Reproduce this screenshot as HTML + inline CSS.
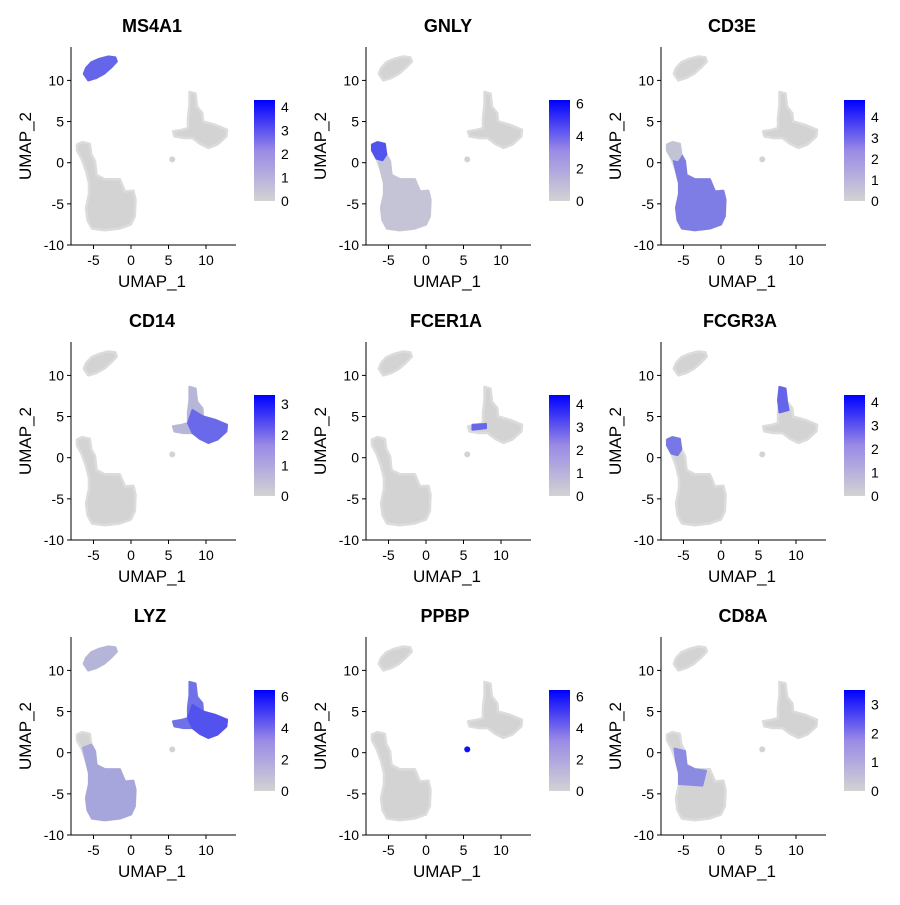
<!DOCTYPE html>
<html><head><meta charset="utf-8"><style>
html,body{margin:0;padding:0;background:#fff}
svg text{font-family:"Liberation Sans",sans-serif;fill:#000}
</style></head><body>
<svg id="chart" width="900" height="900" viewBox="0 0 900 900"></svg>
<script>
const genes = ["MS4A1","GNLY","CD3E","CD14","FCER1A","FCGR3A","LYZ","PPBP","CD8A"];
const titleX = [152,448,732,152,446,740,150,445,743];
const scaleMax = [4.3,6.2,4.8,3.3,4.4,4.3,6.4,6.4,3.5];
const scaleTicks = [[0,1,2,3,4],[0,2,4,6],[0,1,2,3,4],[0,1,2,3],[0,1,2,3,4],[0,1,2,3,4],[0,2,4,6],[0,2,4,6],[0,1,2,3]];
const xTicks = [-5,0,5,10];
const yTicks = [10,5,0,-5,-10];
const bCluster = [[-6.3,10.8],[-6.0,11.5],[-5.3,12.2],[-4.3,12.6],[-3.0,12.9],[-2.1,12.8],[-1.9,12.3],[-2.6,11.6],[-3.6,10.8],[-4.6,10.3],[-5.7,10.0]];
const tCluster = [[-7.2,2.2],[-6.5,2.5],[-5.5,2.3],[-5.3,1.0],[-4.8,0.2],[-4.6,-1.5],[-3.5,-2.0],[-1.5,-2.0],[-0.8,-3.5],[0.3,-3.4],[0.6,-4.5],[0.5,-6.5],[0,-7.5],[-1.5,-8.0],[-3.5,-8.2],[-5.2,-8.0],[-5.8,-7.0],[-6.0,-5.5],[-5.6,-3.8],[-5.6,-2.5],[-6.0,-1.0],[-6.6,0.5],[-7.2,1.5]];
const monoCluster = [[7.8,8.6],[8.6,8.4],[8.8,6.8],[9.5,6.0],[9.6,5.0],[11.2,4.6],[12.8,4.0],[12.7,3.2],[11.5,2.2],[10.3,1.8],[9.2,2.3],[8.2,3.0],[7.0,3.0],[5.8,3.2],[5.6,3.8],[6.8,4.0],[7.6,4.2],[7.6,5.5],[7.8,7.0]];
const plateletCenter = [5.5,0.4];
const nkTip = [[-7.2,2.2],[-6.5,2.5],[-5.5,2.3],[-5.3,1.0],[-5.8,0.3],[-6.6,0.5],[-7.2,1.5]];
const tBody = [[-6.4,0.6],[-5.3,1.0],[-4.8,0.2],[-4.6,-1.5],[-3.5,-2.0],[-1.5,-2.0],[-0.8,-3.5],[0.3,-3.4],[0.6,-4.5],[0.5,-6.5],[0,-7.5],[-1.5,-8.0],[-3.5,-8.2],[-5.2,-8.0],[-5.8,-7.0],[-6.0,-5.5],[-5.6,-3.8],[-5.6,-2.5],[-6.0,-1.0]];
const monoRight = [[8.2,5.8],[9.6,5.0],[11.2,4.6],[12.8,4.0],[12.7,3.2],[11.5,2.2],[10.3,1.8],[9.2,2.3],[8.2,3.0],[7.6,4.2]];
const dcSpot = [[6.2,3.4],[8.0,3.6],[8.0,4.1],[6.2,4.0]];
const monoTop = [[7.8,8.6],[8.6,8.4],[8.8,6.8],[9.0,5.8],[7.8,5.5],[7.6,7.0]];
const cd8Region = [[-6.2,0.5],[-4.8,0.2],[-4.6,-1.5],[-3.5,-2.0],[-2,-2.2],[-2.5,-4],[-5.6,-3.8],[-5.6,-2.5],[-6.0,-1.0]];
const exprRegions = [
 [[bCluster,3.0]],
 [[tBody,0.6],[nkTip,5.0]],
 [[tBody,2.6],[nkTip,0.5]],
 [[monoCluster,0.6],[monoRight,2.2]],
 [[dcSpot,3.0]],
 [[monoTop,3.0],[nkTip,2.5]],
 [[bCluster,1.2],[tBody,1.8],[monoCluster,4.0],[monoRight,5.2]],
 [["platelet",6.0]],
 [[cd8Region,1.6]]
];
const exprDisplay = 0.75;
const ns="http://www.w3.org/2000/svg";
const svg=document.getElementById('chart');
function mk(tag,attrs,parent){const e=document.createElementNS(ns,tag);for(const k in attrs)e.setAttribute(k,attrs[k]);(parent||svg).appendChild(e);return e;}
function col(v,max){const t=Math.max(0,Math.min(1,v/max));const r=Math.round(211*(1-t)),g=Math.round(211*(1-t)),b=Math.round(211+(255-211)*t);return `rgb(${r},${g},${b})`;}
const defs=mk('defs',{});
const lg=mk('linearGradient',{id:'cbar',x1:0,y1:1,x2:0,y2:0},defs);
mk('stop',{offset:0,'stop-color':'#d3d3d3'},lg);mk('stop',{offset:0.5,'stop-color':'#9a8ae6'},lg);mk('stop',{offset:1,'stop-color':'#0000ff'},lg);
genes.forEach((gname,i)=>{
 const ox=(i%3)*295, oy=Math.floor(i/3)*295;
 const sx=u=>ox+131+7.5*u, sy=u=>oy+162.7-8.23*u;
 const pts=p=>p.map(q=>sx(q[0]).toFixed(1)+','+sy(q[1]).toFixed(1)).join(' ');
 const g=mk('g',{});
 
 
 const t=mk('text',{x:titleX[i],y:oy+32,'text-anchor':'middle','font-size':18,'font-weight':'bold'},g);t.textContent=gname;
 
 
 [bCluster,tCluster,monoCluster].forEach(c=>{const p=mk('polygon',{points:pts(c),fill:'#d3d3d3',stroke:'#dcdcdc','stroke-width':2.5,'stroke-linejoin':'round'},g);
  
  });
 const pl=mk('circle',{cx:sx(plateletCenter[0]),cy:sy(plateletCenter[1]),r:3,fill:'#d3d3d3'},g);
 
 
 exprRegions[i].forEach(([reg,v])=>{
  let e;
  const c=col(v*(reg==='platelet'?1:exprDisplay),scaleMax[i]);
  if(reg==='platelet'){e=mk('circle',{cx:sx(plateletCenter[0]),cy:sy(plateletCenter[1]),r:3,fill:c},g);}
  else e=mk('polygon',{points:pts(reg),fill:c,stroke:c,'stroke-width':2,'stroke-linejoin':'round'},g);
  
  
 });
 const ax=mk('path',{d:`M${ox+71},${oy+47}V${oy+245}H${ox+236}`,stroke:'#000','stroke-width':1,fill:'none'},g);
 
 
 yTicks.forEach(v=>{const y=sy(v);mk('line',{x1:ox+67,x2:ox+71,y1:y,y2:y,stroke:'#000'},g);
  const tt=mk('text',{x:ox+64,y:y+5,'text-anchor':'end','font-size':14},g);tt.textContent=v;
  
  });
 xTicks.forEach(v=>{const x=sx(v);mk('line',{x1:x,x2:x,y1:oy+245,y2:oy+249,stroke:'#000'},g);
  const tt=mk('text',{x:x,y:oy+265,'text-anchor':'middle','font-size':14},g);tt.textContent=v;
  
  });
 const xl=mk('text',{x:ox+152,y:oy+287,'text-anchor':'middle','font-size':17},g);xl.textContent='UMAP_1';
 
 
 const yl=mk('text',{x:0,y:0,'text-anchor':'middle','font-size':17,transform:`translate(${ox+31},${oy+146}) rotate(-90)`},g);yl.textContent='UMAP_2';
 
 
 const cb=mk('rect',{x:ox+254,y:oy+100,width:21,height:101,fill:'url(#cbar)'},g);
 
 
 scaleTicks[i].forEach(v=>{const y=oy+201-101*v/scaleMax[i];
  const tt=mk('text',{x:ox+281,y:y+5,'font-size':14},g);tt.textContent=v;
  
  });
});
</script>
</body></html>
